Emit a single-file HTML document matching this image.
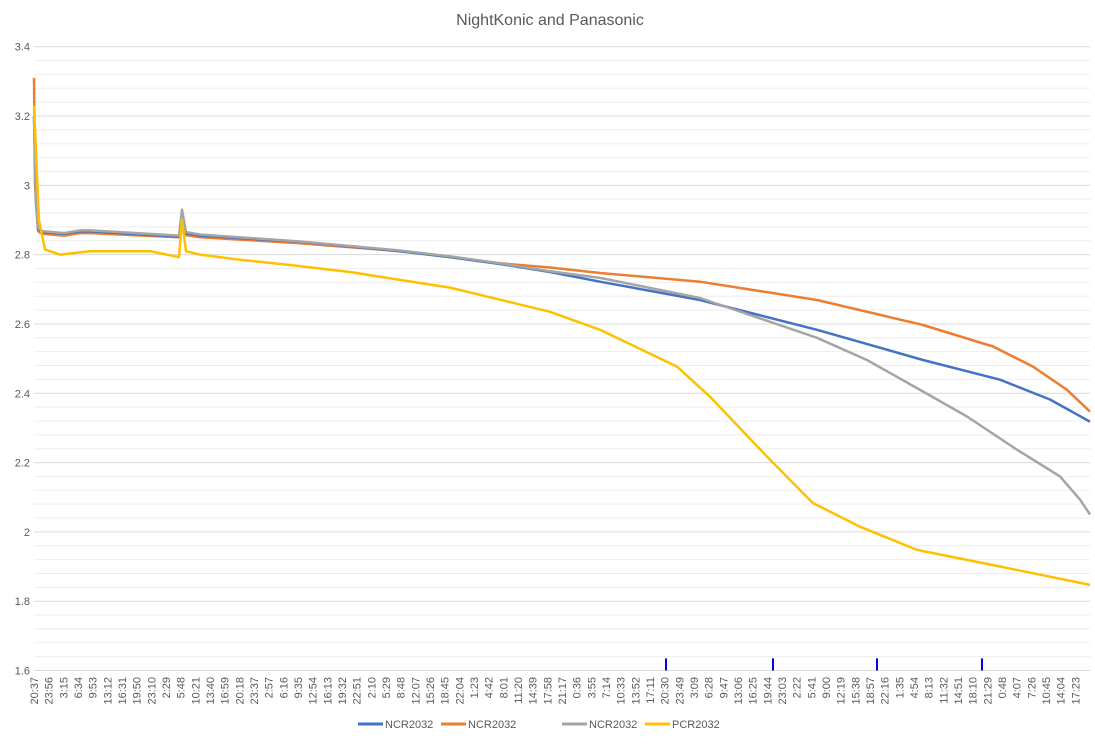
<!DOCTYPE html>
<html><head><meta charset="utf-8"><style>
body{margin:0;background:#fff;font-family:"Liberation Sans",sans-serif}
svg text{font-family:"Liberation Sans",sans-serif;fill:#595959}
</style></head><body>
<svg width="1095" height="741" id="c">
<text x="550" y="25" text-anchor="middle" font-size="16">NightKonic and Panasonic</text>
<g id="grid"></g><g id="marks"></g><g id="axes"></g><g id="legend"></g>
</svg>
<script>
const xLabels=["20:37","23:56","3:15","6:34","9:53","13:12","16:31","19:50","23:10","2:29","5:48","10:21","13:40","16:59","20:18","23:37","2:57","6:16","9:35","12:54","16:13","19:32","22:51","2:10","5:29","8:48","12:07","15:26","18:45","22:04","1:23","4:42","8:01","11:20","14:39","17:58","21:17","0:36","3:55","7:14","10:33","13:52","17:11","20:30","23:49","3:09","6:28","9:47","13:06","16:25","19:44","23:03","2:22","5:41","9:00","12:19","15:38","18:57","22:16","1:35","4:54","8:13","11:32","14:51","18:10","21:29","0:48","4:07","7:26","10:45","14:04","17:23"];
const yTicks=[1.6,1.8,2,2.2,2.4,2.6,2.8,3,3.2,3.4];
const seriesNames=["NCR2032","NCR2032","NCR2032","PCR2032"];
const seriesColors=["#4472c4","#ed7d31","#a5a5a5","#ffc000"];
// sample index (0..10560) and voltage
const ncr1X=[0,20,40,80,300,460,560,1450,1480,1520,1660,2660,3660,4160,4660,5160,5660,6660,7830,8890,9660,10160,10560];
const ncr1Y=[3.2,2.95,2.875,2.865,2.86,2.867,2.867,2.852,2.9,2.862,2.855,2.837,2.81,2.793,2.773,2.75,2.722,2.669,2.583,2.496,2.439,2.382,2.318];
const ncr2X=[0,10,40,80,300,460,560,1450,1480,1520,1660,2660,3660,4160,4660,5160,5660,6660,7830,8890,9590,9990,10330,10560];
const ncr2Y=[3.31,3.0,2.868,2.86,2.855,2.862,2.862,2.85,2.88,2.856,2.85,2.833,2.81,2.793,2.775,2.763,2.747,2.722,2.669,2.597,2.535,2.477,2.41,2.347];
const ncr3X=[0,20,40,80,300,460,560,1450,1480,1520,1660,2660,3660,4160,4660,5160,5660,6660,7830,8330,8890,9330,9830,10260,10460,10560];
const ncr3Y=[3.2,2.95,2.878,2.868,2.862,2.87,2.87,2.855,2.93,2.865,2.858,2.838,2.812,2.795,2.775,2.752,2.733,2.675,2.56,2.496,2.405,2.333,2.237,2.16,2.093,2.05];
const pcrX=[0,50,110,260,560,1160,1450,1480,1520,1660,2060,2560,3160,3660,4160,4660,5160,5660,6430,6760,7330,7790,8260,8830,9660,10560];
const pcrY=[3.23,2.9,2.815,2.8,2.81,2.81,2.793,2.9,2.81,2.8,2.785,2.77,2.75,2.727,2.705,2.67,2.635,2.583,2.477,2.39,2.217,2.083,2.015,1.948,1.9,1.847];
const markerX=[6320,7390,8430,9480];
const NS="http://www.w3.org/2000/svg";
const L=34,R=1090,T=46.7,B=670.5,XMAX=10560;
const sx=v=>L+v/XMAX*(R-L);
const sy=v=>T+(3.4-v)/1.8*(B-T);
function el(t,a,p){const e=document.createElementNS(NS,t);for(const k in a)e.setAttribute(k,a[k]);document.getElementById(p).appendChild(e);return e;}
for(let v=1.6;v<=3.401;v+=0.04){
 const major=Math.abs(v*5-Math.round(v*5))<0.01;
 const g=el("line",{x1:L,x2:R,y1:sy(v),y2:sy(v),stroke:major?"#d9d9d9":"#eeeeee","stroke-width":1},"grid");
 
 
}
yTicks.forEach(v=>{
 const t=el("text",{x:30,y:sy(v)+4,"text-anchor":"end","font-size":11},"axes");
 t.textContent=String(v);
 
 
});
const step=(R-L)/xLabels.length;
xLabels.forEach((s,i)=>{
 const x=L+step*i+4;
 const t=el("text",{x:0,y:0,"text-anchor":"end","font-size":11,transform:`translate(${x},677) rotate(-90)`},"axes");
 t.textContent=s;
 
 
});
const sets=[[ncr1X,ncr1Y],[ncr2X,ncr2Y],[ncr3X,ncr3Y],[pcrX,pcrY]];
const order=[1,0,2,3];
order.forEach(i=>{
 const [xs,ys]=sets[i];
 const d=xs.map((x,j)=>(j?"L":"M")+sx(x).toFixed(1)+","+sy(ys[j]).toFixed(1)).join("");
 const p=el("path",{d:d,fill:"none",stroke:seriesColors[i],"stroke-width":2.5,"stroke-linejoin":"round"},"marks");
 
 
});
markerX.forEach(x=>{
 const m=el("line",{x1:sx(x),x2:sx(x),y1:sy(1.635),y2:sy(1.6),stroke:"#0000ee","stroke-width":2},"marks");
 
 
});
const lx=[358,441,562,645];
seriesNames.forEach((n,i)=>{
 const l=el("line",{x1:lx[i],x2:lx[i]+25,y1:724,y2:724,stroke:seriesColors[i],"stroke-width":3},"legend");
 
 
 const t=el("text",{x:lx[i]+27,y:728,"font-size":11},"legend");
 t.textContent=n;
 
 
});
</script>
</body></html>
